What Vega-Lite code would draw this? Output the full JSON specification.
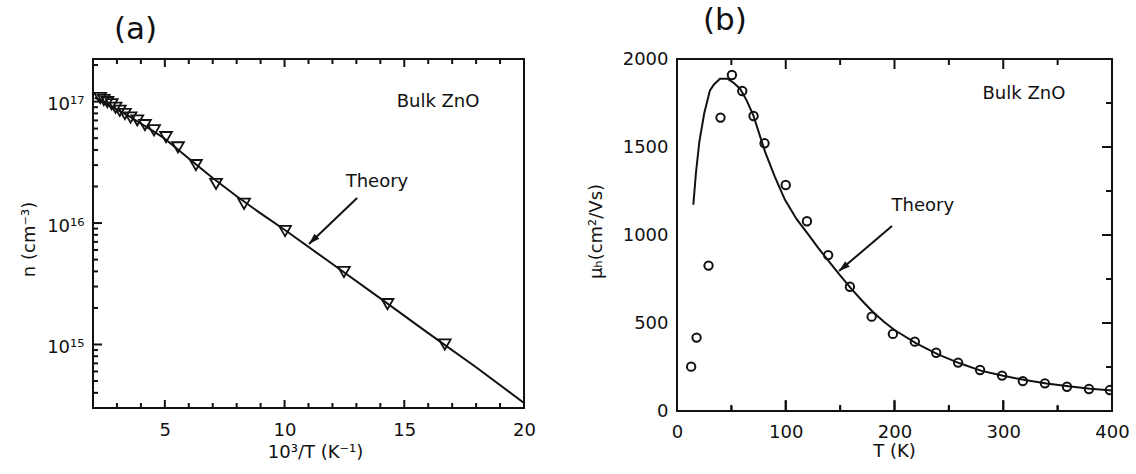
{
  "$schema": "https://vega.github.io/schema/vega-lite/v6.json",
  "padding": {"left": 19, "top": 4, "right": 0, "bottom": 0},
  "spacing": 49,
  "config": {
    "font": "DejaVu Sans",
    "view": {"stroke": "#111", "strokeWidth": 2},
    "axis": {"domain": false, "grid": false, "ticks": false, "labelFont": "DejaVu Sans", "labelFontSize": 18, "labelColor": "#111", "titleFont": "DejaVu Sans", "titleFontSize": 18, "titleFontWeight": "normal", "titleColor": "#111", "labelFlush": false, "labelOverlap": false, "labelBound": false},
    "title": {"font": "DejaVu Sans", "fontSize": 31, "fontWeight": "normal", "color": "#111", "anchor": "start", "frame": "group", "baseline": "bottom"},
    "rule": {"color": "#111", "strokeWidth": 2},
    "tick": {"color": "#111", "thickness": 2, "opacity": 1}
  },
  "datasets": {
    "xMajA": [{"xa": 5}, {"xa": 10}, {"xa": 15}],
    "xMinA": [{"xa": 3}, {"xa": 4}, {"xa": 6}, {"xa": 7}, {"xa": 8}, {"xa": 9}, {"xa": 11}, {"xa": 12}, {"xa": 13}, {"xa": 14}, {"xa": 16}, {"xa": 17}, {"xa": 18}, {"xa": 19}],
    "yMajA": [{"ya": 1e15}, {"ya": 1e16}, {"ya": 1e17}],
    "yMinA": [{"ya": 4e14}, {"ya": 5e14}, {"ya": 6e14}, {"ya": 7e14}, {"ya": 8e14}, {"ya": 9e14}, {"ya": 2e15}, {"ya": 3e15}, {"ya": 4e15}, {"ya": 5e15}, {"ya": 6e15}, {"ya": 7e15}, {"ya": 8e15}, {"ya": 9e15}, {"ya": 2e16}, {"ya": 3e16}, {"ya": 4e16}, {"ya": 5e16}, {"ya": 6e16}, {"ya": 7e16}, {"ya": 8e16}, {"ya": 9e16}, {"ya": 2e17}],
    "xMajB": [{"xb": 100}, {"xb": 200}, {"xb": 300}],
    "xMinB": [{"xb": 50}, {"xb": 150}, {"xb": 250}, {"xb": 350}],
    "yMajB": [{"yb": 500}, {"yb": 1000}, {"yb": 1500}],
    "yMinB": [{"yb": 250}, {"yb": 750}, {"yb": 1250}, {"yb": 1750}]
  },
  "hconcat": [
    {
      "width": 431,
      "height": 349,
      "title": {"text": "(a)", "dx": 21, "offset": 13},
      "resolve": {"axis": {"x": "independent", "y": "independent"}},
      "layer": [
        {
          "data": {"values": [
            {"invT": 2.07, "n": 1.08e17}, {"invT": 2.5, "n": 9.8e16}, {"invT": 3, "n": 8.6e16}, {"invT": 3.5, "n": 7.6e16},
            {"invT": 4, "n": 6.6e16}, {"invT": 4.5, "n": 5.75e16}, {"invT": 5, "n": 4.95e16}, {"invT": 6, "n": 3.4e16},
            {"invT": 7, "n": 2.35e16}, {"invT": 8, "n": 1.66e16}, {"invT": 9, "n": 1.2e16}, {"invT": 10, "n": 8.8e15},
            {"invT": 12, "n": 4.6e15}, {"invT": 14, "n": 2.4e15}, {"invT": 16, "n": 1.24e15}, {"invT": 18, "n": 6.5e14},
            {"invT": 20, "n": 3.3e14}
          ]},
          "mark": {"type": "line", "color": "#111", "strokeWidth": 2},
          "encoding": {
            "x": {"field": "invT", "type": "quantitative", "scale": {"domain": [2, 20], "nice": false, "zero": false},
              "axis": {"orient": "bottom", "values": [5, 10, 15, 20], "labelPadding": 22, "labelBaseline": "middle", "title": "10³/T (K⁻¹)", "titleX": 222, "titleY": 44, "titleAlign": "center", "titleBaseline": "middle"}},
            "y": {"field": "n", "type": "quantitative", "scale": {"type": "log", "domain": [3e14, 2.243e17], "nice": false},
              "axis": {"orient": "left", "values": [1e15, 1e16, 1e17], "labelPadding": 9, "labelOffset": 3, "labelExpr": "datum.value > 5e16 ? '10¹⁷' : datum.value > 5e15 ? '10¹⁶' : '10¹⁵'", "title": "n (cm⁻³)", "titleX": -64, "titleY": 180, "titleAngle": -90, "titleAlign": "center", "titleBaseline": "middle"}}
          }
        },
        {
          "data": {"values": [
            {"invT": 2.3, "n": 1.07e17}, {"invT": 2.45, "n": 1.03e17}, {"invT": 2.6, "n": 9.9e16}, {"invT": 2.78, "n": 9.5e16},
            {"invT": 2.94, "n": 8.9e16}, {"invT": 3.12, "n": 8.4e16}, {"invT": 3.33, "n": 7.9e16}, {"invT": 3.57, "n": 7.4e16},
            {"invT": 3.85, "n": 7.0e16}, {"invT": 4.17, "n": 6.4e16}, {"invT": 4.55, "n": 5.8e16}, {"invT": 5.05, "n": 5.1e16},
            {"invT": 5.55, "n": 4.2e16}, {"invT": 6.3, "n": 3.0e16}, {"invT": 7.14, "n": 2.1e16}, {"invT": 8.31, "n": 1.44e16},
            {"invT": 10.02, "n": 8.6e15}, {"invT": 12.48, "n": 3.95e15}, {"invT": 14.3, "n": 2.15e15}, {"invT": 16.69, "n": 1.0e15}
          ]},
          "mark": {"type": "point", "shape": "triangle-down", "size": 140, "filled": false, "color": "#111", "strokeWidth": 1.8, "opacity": 1},
          "encoding": {
            "x": {"field": "invT", "type": "quantitative", "scale": {"domain": [2, 20], "nice": false, "zero": false}, "axis": null},
            "y": {"field": "n", "type": "quantitative", "scale": {"type": "log", "domain": [3e14, 2.243e17], "nice": false}, "axis": null}
          }
        },
        {
          "data": {"values": [{"invT": 13.03, "n": 1.61e16, "invT2": 11.02, "n2": 6.73e15}]},
          "mark": {"type": "rule"},
          "encoding": {
            "x": {"field": "invT", "type": "quantitative", "scale": {"domain": [2, 20], "nice": false, "zero": false}, "axis": null},
            "y": {"field": "n", "type": "quantitative", "scale": {"type": "log", "domain": [3e14, 2.243e17], "nice": false}, "axis": null},
            "x2": {"field": "invT2"},
            "y2": {"field": "n2"}
          }
        },
        {
          "data": {"values": [{"invT": 11.02, "n": 6.73e15}]},
          "mark": {"type": "point", "shape": "M0,0L0.32,1L-0.32,1Z", "size": 484, "filled": true, "color": "#111", "opacity": 1, "angle": 226},
          "encoding": {
            "x": {"field": "invT", "type": "quantitative", "scale": {"domain": [2, 20], "nice": false, "zero": false}, "axis": null},
            "y": {"field": "n", "type": "quantitative", "scale": {"type": "log", "domain": [3e14, 2.243e17], "nice": false}, "axis": null}
          }
        },
        {
          "data": {"values": [{"invT": 16.41, "n": 9.9e16, "label": "Bulk ZnO"}, {"invT": 13.86, "n": 2.18e16, "label": "Theory"}]},
          "mark": {"type": "text", "fontSize": 18, "color": "#111", "align": "center", "baseline": "middle"},
          "encoding": {
            "x": {"field": "invT", "type": "quantitative", "scale": {"domain": [2, 20], "nice": false, "zero": false}, "axis": null},
            "y": {"field": "n", "type": "quantitative", "scale": {"type": "log", "domain": [3e14, 2.243e17], "nice": false}, "axis": null},
            "text": {"field": "label"}
          }
        },
        {
          "data": {"name": "xMajA"},
          "mark": {"type": "tick", "orient": "vertical", "size": 16, "clip": true},
          "encoding": {
            "x": {"field": "xa", "type": "quantitative", "scale": {"domain": [2, 20], "nice": false, "zero": false}, "axis": null},
            "y": {"datum": 3e14, "type": "quantitative", "scale": {"type": "log", "domain": [3e14, 2.243e17], "nice": false}, "axis": null}
          }
        },
        {
          "data": {"name": "xMajA"},
          "mark": {"type": "tick", "orient": "vertical", "size": 16, "clip": true},
          "encoding": {
            "x": {"field": "xa", "type": "quantitative", "scale": {"domain": [2, 20], "nice": false, "zero": false}, "axis": null},
            "y": {"datum": 2.243e17, "type": "quantitative", "scale": {"type": "log", "domain": [3e14, 2.243e17], "nice": false}, "axis": null}
          }
        },
        {
          "data": {"name": "xMinA"},
          "mark": {"type": "tick", "orient": "vertical", "size": 10, "clip": true},
          "encoding": {
            "x": {"field": "xa", "type": "quantitative", "scale": {"domain": [2, 20], "nice": false, "zero": false}, "axis": null},
            "y": {"datum": 3e14, "type": "quantitative", "scale": {"type": "log", "domain": [3e14, 2.243e17], "nice": false}, "axis": null}
          }
        },
        {
          "data": {"name": "xMinA"},
          "mark": {"type": "tick", "orient": "vertical", "size": 10, "clip": true},
          "encoding": {
            "x": {"field": "xa", "type": "quantitative", "scale": {"domain": [2, 20], "nice": false, "zero": false}, "axis": null},
            "y": {"datum": 2.243e17, "type": "quantitative", "scale": {"type": "log", "domain": [3e14, 2.243e17], "nice": false}, "axis": null}
          }
        },
        {
          "data": {"name": "yMajA"},
          "mark": {"type": "tick", "orient": "horizontal", "size": 18, "clip": true},
          "encoding": {
            "y": {"field": "ya", "type": "quantitative", "scale": {"type": "log", "domain": [3e14, 2.243e17], "nice": false}, "axis": null},
            "x": {"datum": 2, "type": "quantitative", "scale": {"domain": [2, 20], "nice": false, "zero": false}, "axis": null}
          }
        },
        {
          "data": {"name": "yMinA"},
          "mark": {"type": "tick", "orient": "horizontal", "size": 10, "clip": true},
          "encoding": {
            "y": {"field": "ya", "type": "quantitative", "scale": {"type": "log", "domain": [3e14, 2.243e17], "nice": false}, "axis": null},
            "x": {"datum": 2, "type": "quantitative", "scale": {"domain": [2, 20], "nice": false, "zero": false}, "axis": null}
          }
        }
      ]
    },
    {
      "width": 435,
      "height": 352,
      "title": {"text": "(b)", "dx": 26, "offset": 13},
      "resolve": {"axis": {"x": "independent", "y": "independent"}},
      "layer": [
        {
          "data": {"values": [
            {"T": 15, "mu": 1172}, {"T": 17.5, "mu": 1358}, {"T": 20.5, "mu": 1528}, {"T": 25, "mu": 1690}, {"T": 30.3, "mu": 1822},
            {"T": 34, "mu": 1855}, {"T": 39.5, "mu": 1888}, {"T": 46.3, "mu": 1888}, {"T": 52, "mu": 1865}, {"T": 58, "mu": 1831},
            {"T": 64, "mu": 1765}, {"T": 70.2, "mu": 1680}, {"T": 81, "mu": 1472}, {"T": 90, "mu": 1330}, {"T": 99.3, "mu": 1200},
            {"T": 110, "mu": 1090}, {"T": 120, "mu": 1009}, {"T": 130, "mu": 925}, {"T": 140, "mu": 848}, {"T": 150, "mu": 770},
            {"T": 160, "mu": 697}, {"T": 170, "mu": 628}, {"T": 180, "mu": 564}, {"T": 190, "mu": 508}, {"T": 200, "mu": 460},
            {"T": 220, "mu": 384}, {"T": 240, "mu": 322}, {"T": 260, "mu": 271}, {"T": 280, "mu": 228}, {"T": 300, "mu": 200},
            {"T": 320, "mu": 176}, {"T": 340, "mu": 156}, {"T": 360, "mu": 140}, {"T": 380, "mu": 126}, {"T": 400, "mu": 116}
          ]},
          "mark": {"type": "line", "color": "#111", "strokeWidth": 2},
          "encoding": {
            "x": {"field": "T", "type": "quantitative", "scale": {"domain": [0, 400], "nice": false, "zero": false},
              "axis": {"orient": "bottom", "values": [0, 100, 200, 300, 400], "format": "d", "labelPadding": 21, "labelBaseline": "middle", "title": "T (K)", "titleX": 217, "titleY": 40, "titleAlign": "center", "titleBaseline": "middle"}},
            "y": {"field": "mu", "type": "quantitative", "scale": {"domain": [0, 2000], "nice": false, "zero": false},
              "axis": {"orient": "left", "values": [0, 500, 1000, 1500, 2000], "format": "d", "labelPadding": 9, "title": "μₕ(cm²/Vs)", "titleX": -81, "titleY": 172, "titleAngle": -90, "titleAlign": "center", "titleBaseline": "middle"}}
          }
        },
        {
          "data": {"values": [
            {"T": 13, "mu": 252}, {"T": 18, "mu": 417}, {"T": 29, "mu": 826}, {"T": 40, "mu": 1667}, {"T": 50.5, "mu": 1909},
            {"T": 60, "mu": 1818}, {"T": 70.4, "mu": 1676}, {"T": 80.5, "mu": 1521}, {"T": 100, "mu": 1284}, {"T": 119.5, "mu": 1078},
            {"T": 139, "mu": 886}, {"T": 159, "mu": 706}, {"T": 179, "mu": 536}, {"T": 198.5, "mu": 438}, {"T": 218.7, "mu": 394},
            {"T": 238.3, "mu": 331}, {"T": 258.5, "mu": 275}, {"T": 278.7, "mu": 233}, {"T": 298.9, "mu": 201}, {"T": 318, "mu": 170},
            {"T": 338.3, "mu": 157}, {"T": 358.6, "mu": 138}, {"T": 378.8, "mu": 125}, {"T": 398, "mu": 119}
          ]},
          "mark": {"type": "point", "shape": "circle", "size": 70, "filled": false, "color": "#111", "strokeWidth": 2, "opacity": 1, "clip": true},
          "encoding": {
            "x": {"field": "T", "type": "quantitative", "scale": {"domain": [0, 400], "nice": false, "zero": false}, "axis": null},
            "y": {"field": "mu", "type": "quantitative", "scale": {"domain": [0, 2000], "nice": false, "zero": false}, "axis": null}
          }
        },
        {
          "data": {"values": [{"T": 197.7, "mu": 1051, "T2": 149.0, "mu2": 795}]},
          "mark": {"type": "rule"},
          "encoding": {
            "x": {"field": "T", "type": "quantitative", "scale": {"domain": [0, 400], "nice": false, "zero": false}, "axis": null},
            "y": {"field": "mu", "type": "quantitative", "scale": {"domain": [0, 2000], "nice": false, "zero": false}, "axis": null},
            "x2": {"field": "T2"},
            "y2": {"field": "mu2"}
          }
        },
        {
          "data": {"values": [{"T": 149.0, "mu": 795}]},
          "mark": {"type": "point", "shape": "M0,0L0.32,1L-0.32,1Z", "size": 484, "filled": true, "color": "#111", "opacity": 1, "angle": 230},
          "encoding": {
            "x": {"field": "T", "type": "quantitative", "scale": {"domain": [0, 400], "nice": false, "zero": false}, "axis": null},
            "y": {"field": "mu", "type": "quantitative", "scale": {"domain": [0, 2000], "nice": false, "zero": false}, "axis": null}
          }
        },
        {
          "data": {"values": [{"T": 319, "mu": 1801, "label": "Bulk ZnO"}, {"T": 226, "mu": 1165, "label": "Theory"}]},
          "mark": {"type": "text", "fontSize": 18, "color": "#111", "align": "center", "baseline": "middle"},
          "encoding": {
            "x": {"field": "T", "type": "quantitative", "scale": {"domain": [0, 400], "nice": false, "zero": false}, "axis": null},
            "y": {"field": "mu", "type": "quantitative", "scale": {"domain": [0, 2000], "nice": false, "zero": false}, "axis": null},
            "text": {"field": "label"}
          }
        },
        {
          "data": {"name": "xMajB"},
          "mark": {"type": "tick", "orient": "vertical", "size": 22, "clip": true},
          "encoding": {
            "x": {"field": "xb", "type": "quantitative", "scale": {"domain": [0, 400], "nice": false, "zero": false}, "axis": null},
            "y": {"datum": 0.5, "type": "quantitative", "scale": {"domain": [0, 2000], "nice": false, "zero": false}, "axis": null}
          }
        },
        {
          "data": {"name": "xMajB"},
          "mark": {"type": "tick", "orient": "vertical", "size": 20, "clip": true},
          "encoding": {
            "x": {"field": "xb", "type": "quantitative", "scale": {"domain": [0, 400], "nice": false, "zero": false}, "axis": null},
            "y": {"datum": 2000, "type": "quantitative", "scale": {"domain": [0, 2000], "nice": false, "zero": false}, "axis": null}
          }
        },
        {
          "data": {"name": "xMinB"},
          "mark": {"type": "tick", "orient": "vertical", "size": 12, "clip": true},
          "encoding": {
            "x": {"field": "xb", "type": "quantitative", "scale": {"domain": [0, 400], "nice": false, "zero": false}, "axis": null},
            "y": {"datum": 0.5, "type": "quantitative", "scale": {"domain": [0, 2000], "nice": false, "zero": false}, "axis": null}
          }
        },
        {
          "data": {"name": "xMinB"},
          "mark": {"type": "tick", "orient": "vertical", "size": 12, "clip": true},
          "encoding": {
            "x": {"field": "xb", "type": "quantitative", "scale": {"domain": [0, 400], "nice": false, "zero": false}, "axis": null},
            "y": {"datum": 2000, "type": "quantitative", "scale": {"domain": [0, 2000], "nice": false, "zero": false}, "axis": null}
          }
        },
        {
          "data": {"name": "xMajB"},
          "mark": {"type": "rule"},
          "encoding": {
            "x": {"field": "xb", "type": "quantitative", "scale": {"domain": [0, 400], "nice": false, "zero": false}, "axis": null},
            "y": {"datum": 0.5, "type": "quantitative", "scale": {"domain": [0, 2000], "nice": false, "zero": false}, "axis": null},
            "y2": {"datum": 57}
          }
        },
        {
          "data": {"name": "xMinB"},
          "mark": {"type": "rule"},
          "encoding": {
            "x": {"field": "xb", "type": "quantitative", "scale": {"domain": [0, 400], "nice": false, "zero": false}, "axis": null},
            "y": {"datum": 0.5, "type": "quantitative", "scale": {"domain": [0, 2000], "nice": false, "zero": false}, "axis": null},
            "y2": {"datum": 28}
          }
        },
        {
          "data": {"name": "yMajB"},
          "mark": {"type": "tick", "orient": "horizontal", "size": 20, "clip": true},
          "encoding": {
            "y": {"field": "yb", "type": "quantitative", "scale": {"domain": [0, 2000], "nice": false, "zero": false}, "axis": null},
            "x": {"datum": 400, "type": "quantitative", "scale": {"domain": [0, 400], "nice": false, "zero": false}, "axis": null}
          }
        },
        {
          "data": {"name": "yMinB"},
          "mark": {"type": "tick", "orient": "horizontal", "size": 12, "clip": true},
          "encoding": {
            "y": {"field": "yb", "type": "quantitative", "scale": {"domain": [0, 2000], "nice": false, "zero": false}, "axis": null},
            "x": {"datum": 400, "type": "quantitative", "scale": {"domain": [0, 400], "nice": false, "zero": false}, "axis": null}
          }
        }
      ]
    }
  ]
}
